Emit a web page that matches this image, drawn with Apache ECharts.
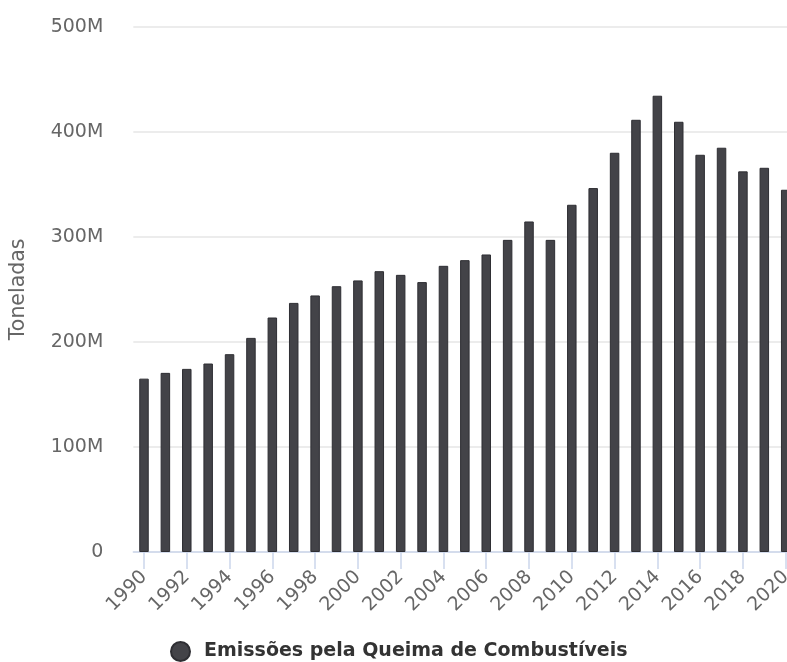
<!DOCTYPE html>
<html>
<head>
<meta charset="utf-8">
<script src="https://cdn.jsdelivr.net/npm/echarts@6/dist/echarts.min.js"></script>
<style>
  html, body { margin: 0; padding: 0; background: #ffffff; overflow: hidden; width: 787px; height: 662px; }
  /* the plot runs slightly past the right edge of the window */
  #chart { width: 800px; height: 662px; }
</style>
</head>
<body>
<div id="chart"></div>
<script>
// Anos (eixo das categorias)
const years = [
  '1990','1991','1992','1993','1994','1995','1996','1997','1998','1999',
  '2000','2001','2002','2003','2004','2005','2006','2007','2008','2009',
  '2010','2011','2012','2013','2014','2015','2016','2017','2018','2019','2020'
];

// Emissões pela queima de combustíveis, em toneladas
const emissoes = [
  165.0e6, 170.5e6, 174.3e6, 179.4e6, 188.3e6, 203.8e6, 223.2e6, 237.1e6, 244.2e6, 253.0e6,
  258.5e6, 267.3e6, 263.8e6, 256.9e6, 272.4e6, 277.8e6, 283.2e6, 297.1e6, 314.6e6, 297.1e6,
  330.5e6, 346.4e6, 380.0e6, 411.4e6, 434.3e6, 409.5e6, 378.1e6, 384.8e6, 362.3e6, 365.7e6,
  344.8e6
];

const seriesName = 'Emissões pela Queima de Combustíveis';
const yAxisTitle = 'Toneladas';
const yMax = 500e6;
const yStep = 100e6;

const FONT = '"DejaVu Sans", Verdana, sans-serif';

const chart = echarts.init(document.getElementById('chart'), null, { renderer: 'canvas' });

chart.setOption({
  animation: false,
  backgroundColor: '#ffffff',
  textStyle: { fontFamily: FONT },
  grid: { left: 133.3, top: 26.7, right: 3.6, bottom: 110, containLabel: false },
  legend: {
    data: [seriesName],
    left: 165,
    top: 636,
    icon: 'circle',
    itemWidth: 19,
    itemHeight: 19,
    itemGap: 10,
    textStyle: { fontFamily: FONT, fontSize: 19, fontWeight: 'bold', color: '#333333', padding: [0, 0, 0, 9] }
  },
  xAxis: {
    type: 'category',
    data: years,
    boundaryGap: true,
    axisLine: { show: true, lineStyle: { color: '#ccd6eb', width: 1.5 } },
    axisTick: { show: true, alignWithLabel: true, interval: 1, length: 17, lineStyle: { color: '#ccd6eb', width: 1.5 } },
    axisLabel: {
      interval: 1,
      rotate: 45,
      margin: 22,
      color: '#666666',
      fontFamily: FONT,
      fontSize: 19
    },
    splitLine: { show: false }
  },
  yAxis: {
    type: 'value',
    min: 0,
    max: yMax,
    interval: yStep,
    name: yAxisTitle,
    nameLocation: 'middle',
    nameGap: 104,
    nameRotate: 90,
    nameTextStyle: { color: '#666666', fontFamily: FONT, fontSize: 20.5 },
    axisLine: { show: false },
    axisTick: { show: false },
    axisLabel: {
      margin: 30,
      color: '#666666',
      fontFamily: FONT,
      fontSize: 19,
      formatter: function (v) { return v === 0 ? '0' : (v / 1e6) + 'M'; }
    },
    splitLine: { show: true, lineStyle: { color: '#e6e6e6', width: 1.6 } }
  },
  series: [{
    name: seriesName,
    type: 'bar',
    data: emissoes,
    barWidth: 9.5,
    itemStyle: { color: '#434348', borderColor: '#2e2e33', borderWidth: 1 }
  }]
});
</script>
</body>
</html>
